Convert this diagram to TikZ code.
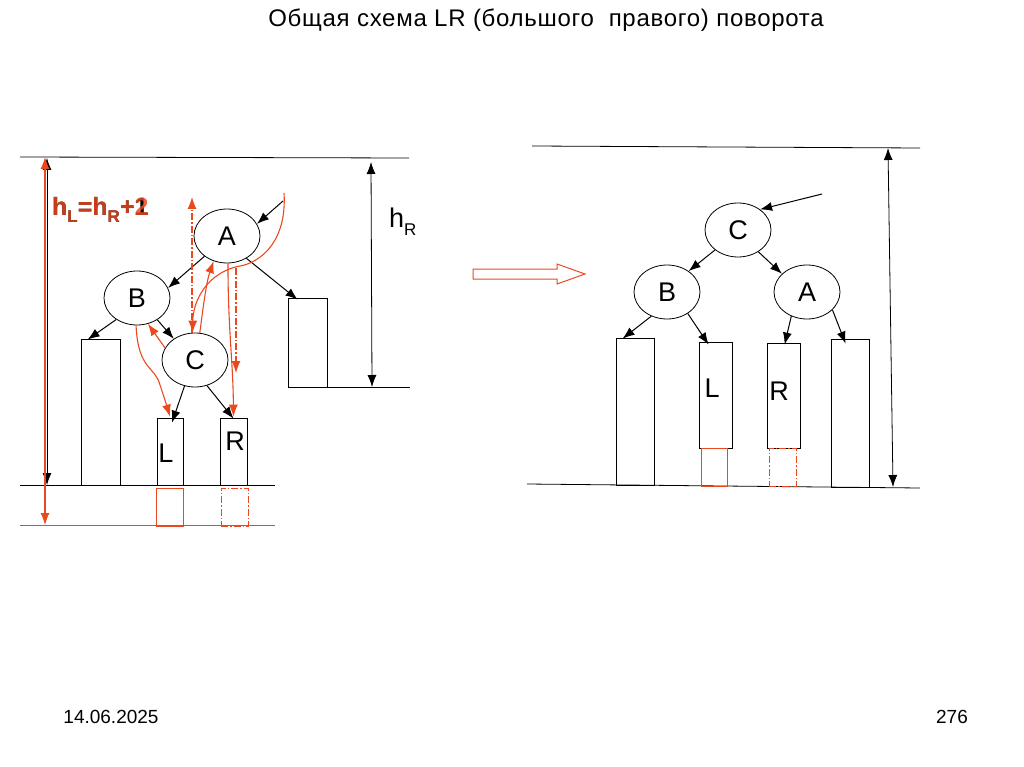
\documentclass[tikz,border=0pt]{standalone}
\usepackage{fontspec}
\setmainfont{Liberation Sans}
\newfontfamily\titlefont[LetterSpace=3]{Liberation Sans}
\usetikzlibrary{arrows.meta,shapes.geometric,calc}
\definecolor{rd}{RGB}{235,72,30}
\tikzset{
  ell/.style={ellipse,draw,line width=0.8pt,minimum width=66pt,minimum height=54pt,inner sep=0pt,font=\fontsize{27}{27}\selectfont},
  box/.style={rectangle,draw,line width=0.8pt,inner sep=0pt},
  rbox/.style={rectangle,draw=rd,line width=0.8pt,inner sep=0pt},
  dd/.style={dash pattern=on 7pt off 2pt on 1.5pt off 2pt},
  tip/.style={-{Latex[length=12pt,width=9pt]}},
  arr/.style={line width=1pt,tip},
  rarr/.style={draw=rd,line width=1.1pt,tip,rd},
  both/.style={{Latex[length=12pt,width=9pt]}-{Latex[length=12pt,width=9pt]}},
  lbl/.style={inner sep=0pt,font=\fontsize{27}{27}\selectfont},
  ln/.style={line width=0.8pt},
}
\begin{document}
\begin{tikzpicture}[x=1pt,y=-1pt]
\useasboundingbox (0,0) rectangle (1024,767);
% title and footer
\node[inner sep=0pt,font=\titlefont\fontsize{24}{24}\selectfont] (title) at (546,20) {Общая схема LR (большого\ \ правого) поворота};
\node[inner sep=0pt,font=\fontsize{19}{19}\selectfont] (date) at (111,717) {14.06.2025};
\node[inner sep=0pt,font=\fontsize{19}{19}\selectfont] (page) at (952,717) {276};

% ---------- left diagram ----------
\coordinate (lt1) at (20,157); \coordinate (lt2) at (409,158);
\draw[ln] (lt1) -- (lt2);
\coordinate (lb1) at (20,485); \coordinate (lb2) at (275,485);
\draw[ln] (lb1) -- (lb2);
\coordinate (lr1) at (20,525); \coordinate (lr2) at (275,525);
\draw[ln,rd] (lr1) -- (lr2);
\coordinate (hr1) at (288,387); \coordinate (hr2) at (410,387);
\draw[ln] (hr1) -- (hr2);
% height arrows
\coordinate (hb1) at (47,158); \coordinate (hb2) at (47,485);
\draw[ln,both] (hb1) -- (hb2);
\coordinate (hl1) at (45,157); \coordinate (hl2) at (45,525);
\draw[line width=1.2pt,rd,both] (hl1) -- (hl2);
\coordinate (hR1) at (371,162); \coordinate (hR2) at (372,387);
\draw[ln,both] (hR1) -- (hR2);
\node[anchor=west,inner sep=0pt,font=\fontsize{27}{27}\selectfont] (hRl) at (389,222) {h\raisebox{-0.3em}{\fontsize{17}{17}\selectfont R}};
% h_L = h_R + 1 / 2 (overprinted)
\node[anchor=west,inner sep=0pt,font=\bfseries\fontsize{25}{25}\selectfont] (hL1) at (52,210) {h\raisebox{-0.3em}{\fontsize{17}{17}\selectfont L}=h\raisebox{-0.3em}{\fontsize{17}{17}\selectfont R}+1};
\node[anchor=west,inner sep=0pt,font=\bfseries\fontsize{25}{25}\selectfont,text=rd,opacity=0.85] (hL2) at (52,210) {h\raisebox{-0.3em}{\fontsize{17}{17}\selectfont L}=h\raisebox{-0.3em}{\fontsize{17}{17}\selectfont R}+2};

% nodes
\node[ell] (A) at (227,236) {A};
\node[ell] (B) at (137,298) {B};
\node[ell] (C) at (195,360) {C};
\node[box,minimum width=39pt,minimum height=146pt] (bl) at (100.5,412) {};
\node[box,minimum width=26pt,minimum height=67pt] (Lr) at (170,451.5) {};
\node[box,minimum width=27pt,minimum height=67pt] (Rr) at (233.5,451.5) {};
\node[box,minimum width=39pt,minimum height=89pt] (rr) at (307.5,342.5) {};
\node[lbl] (Ll) at (166,453) {L};
\node[lbl] (Rl) at (235,441) {R};
\node[rbox,minimum width=27pt,minimum height=38pt] (Le) at (169.5,507) {};
\node[rbox,dd,minimum width=27pt,minimum height=38pt] (Re) at (234.5,507) {};

% black connectors
\coordinate (pA) at (283,201);
\draw[arr] (pA) -- (A.22);
\draw[arr] (A.222) -- (B.18);
\draw[arr] (A.311) -- ([xshift=10pt,yshift=-2pt]rr.north west);
\draw[arr] (B.226) -- ([xshift=7pt,yshift=-1pt]bl.north west);
\draw[arr] (B.313) -- (C.135);
\draw[arr] (C.248) -- ([xshift=2pt,yshift=-5pt]Lr.north);
\draw[arr] (C.295) -- ([yshift=-1pt]Rr.north);

% red connectors
\coordinate (pr) at (284,193);
\coordinate (up) at (192,197);
\draw[rarr] (pr) .. controls (287,240) and (262,262) .. (240,266) .. controls (208,272) and (193,300) .. (C.95);
\draw[rarr] (C.80) .. controls (204,300) and (207,280) .. (A.242);
\draw[rarr,dd] ([xshift=-3pt]C.north) -- (up);
\draw[rarr] (A.272) .. controls (228,330) and (233,360) .. ([yshift=1pt]Rr.north);
\coordinate (dd1) at (236,268); \coordinate (dd2) at (236,373);
\draw[rarr,dd] (dd1) -- (dd2);
\draw[rarr] (C.158) -- (B.293);
\draw[rarr] (B.268) .. controls (138,370) and (155,366) .. (160,385) .. controls (165,400) .. ([yshift=1pt]Lr.north);

% hollow arrow
\draw[rd,line width=1pt,line join=miter] (473,269) -- (557,269) -- (557,264) -- (585,274) -- (557,284) -- (557,279) -- (473,279) -- cycle;

% ---------- right diagram ----------
\coordinate (rt1) at (532,146); \coordinate (rt2) at (920,148);
\draw[ln] (rt1) -- (rt2);
\coordinate (rb1) at (527,484); \coordinate (rb2) at (920,488);
\draw[ln] (rb1) -- (rb2);
\coordinate (rh1) at (888,148); \coordinate (rh2) at (893,487);
\draw[ln,both] (rh1) -- (rh2);

\node[ell] (C2) at (738,230) {C};
\node[ell] (B2) at (667,292) {B};
\node[ell] (A2) at (807,292) {A};
\node[box,minimum width=38pt,minimum height=147pt] (r1) at (635,411.5) {};
\node[box,minimum width=33pt,minimum height=106pt] (L2) at (715.5,395) {};
\node[box,minimum width=33pt,minimum height=105pt] (R2) at (783.5,395.5) {};
\node[box,minimum width=38pt,minimum height=148pt] (r4) at (850,413) {};
\node[lbl] (L2l) at (712,388) {L};
\node[lbl] (R2l) at (779,391) {R};
\node[rbox,minimum width=26pt,minimum height=38pt] (L2e) at (714,467) {};
\node[rbox,dd,minimum width=27pt,minimum height=38pt] (R2e) at (782.5,467) {};

\coordinate (pC) at (822,194);
\draw[arr] (pC) -- (C2.43);
\draw[arr] (C2.221) -- (B2.44);
\draw[arr] (C2.313) -- (A2.144);
\draw[arr] (B2.237) -- ([xshift=7pt,yshift=-1pt]r1.north west);
\draw[arr] (B2.314) -- ([xshift=10pt,yshift=-3pt]L2.north west);
\draw[arr] (A2.237) -- ([xshift=18pt,yshift=-2pt]R2.north west);
\draw[arr] (A2.325) -- ([xshift=15pt,yshift=-5pt]r4.north west);
\end{tikzpicture}
\end{document}
